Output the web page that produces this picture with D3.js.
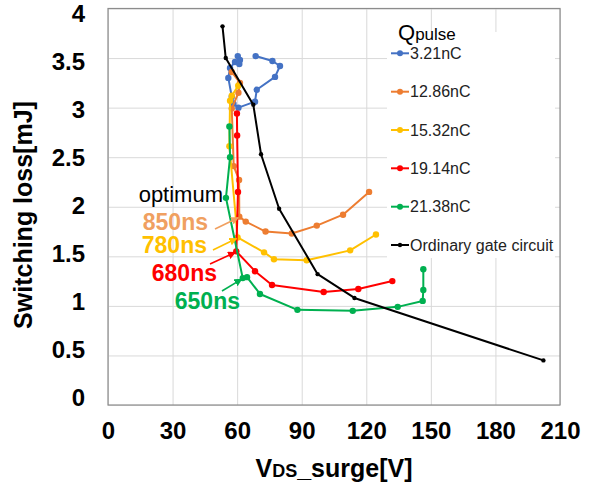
<!DOCTYPE html>
<html>
<head>
<meta charset="utf-8">
<script src="https://cdn.jsdelivr.net/npm/d3@7/dist/d3.min.js"></script>
<style>
  html, body { margin: 0; padding: 0; background: #fff; }
  svg { display: block; font-family: "Liberation Sans", Arial, sans-serif; }
</style>
</head>
<body>
<svg id="chart" width="589" height="488"></svg>
<script>
// ---------------- data ----------------
const xTicks = [0, 30, 60, 90, 120, 150, 180, 210];
const yTicks = [0, 0.5, 1, 1.5, 2, 2.5, 3, 3.5, 4];

const seriesNames = ["3.21nC", "12.86nC", "15.32nC", "19.14nC", "21.38nC", "Ordinary gate circuit"];
const seriesColors = ["#4472C4", "#ED7D31", "#FFC000", "#FF0000", "#00B050", "#000000"];

// [Vds_surge (V), switching loss (mJ)]
const q321 = [[68.6,3.52],[76.4,3.47],[79.9,3.42],[77.6,3.31],[69.1,3.18],[68.3,3.06],[60.6,3.00],[58.3,3.04],[57.5,3.11],[55.9,3.30],[56.7,3.40],[59.0,3.46],[61.3,3.48],[60.3,3.52],[61.0,3.44]];
const q1286 = [[57.5,3.36],[61.3,3.25],[60.6,3.15],[57.5,2.99],[58.4,2.41],[60.9,2.27],[61.0,1.90],[64.0,1.85],[73.2,1.75],[85.4,1.73],[97.0,1.81],[109.2,1.92],[121.3,2.15]];
const q1532 = [[60.5,3.22],[57.5,3.12],[56.7,3.07],[56.4,2.61],[60.2,1.69],[72.5,1.54],[77.1,1.47],[92.3,1.46],[112.5,1.56],[124.5,1.72]];
const q1914 = [[59.9,2.94],[60.0,2.72],[60.4,2.15],[59.6,1.55],[68.3,1.35],[76.2,1.21],[100.2,1.14],[116.3,1.17],[132.1,1.25]];
const q2138 = [[56.4,2.81],[56.7,2.50],[54.8,2.09],[62.6,1.28],[64.6,1.29],[70.6,1.12],[88.0,0.96],[113.7,0.95],[134.6,0.99],[146.2,1.05],[146.5,1.16],[146.5,1.37]];
const ordinary = [[53.2,3.82],[54.7,3.50],[67.5,3.03],[71.1,2.53],[79.5,1.98],[97.4,1.32],[114.5,1.08],[202.3,0.45]];

const allSeries = [q321, q1286, q1532, q1914, q2138, ordinary];

const annotText = ["850ns", "780ns", "680ns", "650ns"];
const annotColors = ["#F0A060", "#FFC000", "#FF0000", "#00B050"];
const annotTargets = [[61.0,1.90],[60.2,1.69],[59.6,1.55],[62.6,1.28]];

// ---------------- layout ----------------
const svg = d3.select("#chart");
const pL = 108, pR = 560, pT = 8.5, pB = 405;
const x = d3.scaleLinear().domain([0, 210]).range([pL, pR]);
const y = d3.scaleLinear().domain([0, 4]).range([pB, pT]);
// tick labels in the reference sit slightly inside the gridline span
const yLab = d3.scaleLinear().domain([0, 4]).range([398, 14]);

// gridlines
svg.append("g").attr("transform", `translate(0,${pB})`)
  .call(d3.axisBottom(x).tickValues(xTicks).tickSize(-(pB - pT)).tickFormat(""))
  .call(g => g.select(".domain").remove())
  .call(g => g.selectAll("line").attr("stroke", "#d9d9d9").attr("stroke-width", 1));
svg.append("g").attr("transform", `translate(${pL},0)`)
  .call(d3.axisLeft(y).tickValues(yTicks).tickSize(-(pR - pL)).tickFormat(""))
  .call(g => g.select(".domain").remove())
  .call(g => g.selectAll("line").attr("stroke", "#d9d9d9").attr("stroke-width", 1));

// plot border
svg.append("rect").attr("x", pL).attr("y", pT).attr("width", pR - pL).attr("height", pB - pT)
  .attr("fill", "none").attr("stroke", "#8c8c8c").attr("stroke-width", 1.2);

// tick labels
svg.append("g").attr("transform", `translate(0,${pB})`)
  .call(d3.axisBottom(x).tickValues(xTicks).tickSize(0).tickPadding(17).tickFormat(d3.format("~g")))
  .call(g => g.select(".domain").remove())
  .call(g => g.selectAll("text").attr("font-size", 24).attr("font-weight", "bold").attr("fill", "#000")
    .attr("font-family", "'Liberation Sans', Arial, sans-serif"));
svg.append("g").attr("transform", `translate(${pL},0)`)
  .call(d3.axisLeft(yLab).tickValues(yTicks).tickSize(0).tickPadding(23).tickFormat(d3.format("~g")))
  .call(g => g.select(".domain").remove())
  .call(g => g.selectAll("text").attr("font-size", 24).attr("font-weight", "bold").attr("fill", "#000")
    .attr("font-family", "'Liberation Sans', Arial, sans-serif"));

// axis titles
svg.append("text").attr("transform", "translate(32,215) rotate(-90)")
  .attr("text-anchor", "middle").attr("font-size", 25).attr("font-weight", "bold")
  .text("Switching loss[mJ]");
const xt = svg.append("text").attr("x", 334).attr("y", 477).attr("text-anchor", "middle")
  .attr("font-size", 25).attr("font-weight", "bold");
xt.append("tspan").text("V");
xt.append("tspan").attr("font-size", 18).text("DS");
xt.append("tspan").text("_surge[V]");

// legend background
svg.append("rect").attr("x", 387).attr("y", 32).attr("width", 168).attr("height", 226).attr("fill", "#fff");

// series
const line = d3.line().x(d => x(d[0])).y(d => y(d[1]));
allSeries.forEach((data, i) => {
  const g = svg.append("g");
  g.append("path").datum(data).attr("d", line).attr("fill", "none")
    .attr("stroke", seriesColors[i]).attr("stroke-width", 2).attr("stroke-linejoin", "round");
  g.selectAll("circle").data(data).join("circle")
    .attr("cx", d => x(d[0])).attr("cy", d => y(d[1]))
    .attr("r", i === 5 ? 2.2 : 3.2).attr("fill", seriesColors[i]);
});

// legend
svg.append("text").attr("x", 398).attr("y", 40).attr("fill", "#000")
  .call(t => t.append("tspan").attr("font-size", 22).text("Q"))
  .call(t => t.append("tspan").attr("font-size", 17).text("pulse"));
const legY = [53.3, 91.7, 130, 168.3, 206.7, 245];
seriesNames.forEach((name, i) => {
  const g = svg.append("g").attr("transform", `translate(0,${legY[i]})`);
  g.append("line").attr("x1", 391).attr("x2", 409).attr("stroke", seriesColors[i]).attr("stroke-width", 2);
  g.append("circle").attr("cx", 400).attr("r", i === 5 ? 2.2 : 3).attr("fill", seriesColors[i]);
  g.append("text").attr("x", 410).attr("dy", "0.35em").attr("font-size", 16).attr("fill", "#222").text(name);
});

// annotations
svg.append("text").attr("x", 223).attr("y", 202).attr("text-anchor", "end")
  .attr("font-size", 22).attr("fill", "#000").text("optimum");
const defs = svg.append("defs");
annotColors.forEach((c, i) => {
  defs.append("marker").attr("id", "ah" + i).attr("viewBox", "0 0 10 10").attr("refX", 9).attr("refY", 5)
    .attr("markerWidth", 5).attr("markerHeight", 5).attr("orient", "auto")
    .append("path").attr("d", "M0,0L10,5L0,10z").attr("fill", c);
});
const textEnd = [[208, 230], [207, 253], [217, 281], [240, 309]];
const arrowStart = [[215, 229], [213, 250], [210, 264], [222, 291]];
annotText.forEach((t, i) => {
  svg.append("text").attr("x", textEnd[i][0]).attr("y", textEnd[i][1]).attr("text-anchor", "end")
    .attr("font-size", 23).attr("font-weight", "bold").attr("fill", annotColors[i]).text(t);
  svg.append("line").attr("x1", arrowStart[i][0]).attr("y1", arrowStart[i][1])
    .attr("x2", x(annotTargets[i][0]) - 1).attr("y2", y(annotTargets[i][1]) + 1)
    .attr("stroke", annotColors[i]).attr("stroke-width", 1.6).attr("marker-end", `url(#ah${i})`);
});
</script>
</body>
</html>
